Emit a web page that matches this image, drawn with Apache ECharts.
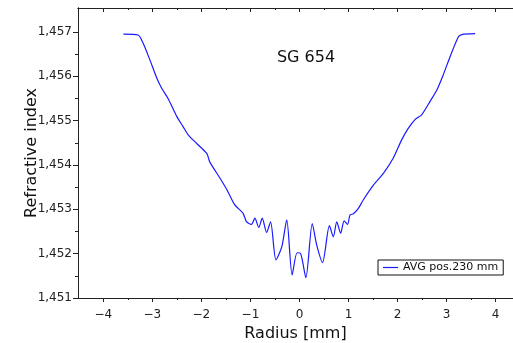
<!DOCTYPE html>
<html>
<head>
<meta charset="utf-8">
<script src="https://cdn.jsdelivr.net/npm/echarts@6/dist/echarts.min.js"></script>
<style>
html,body{margin:0;padding:0;background:#fff;}
#chart{width:513px;height:343px;}
</style>
</head>
<body>
<div id="chart"></div>
<script>
// Radius [mm]
const radius = [-3.59,-3.29,-3.19,-3.05,-2.91,-2.81,-2.68,-2.50,-2.37,-2.27,-2.10,-1.89,-1.83,-1.62,-1.48,-1.32,-1.15,-1.08,-0.98,-0.91,-0.83,-0.76,-0.67,-0.59,-0.48,-0.36,-0.26,-0.15,-0.05,0.02,0.13,0.26,0.35,0.47,0.61,0.69,0.76,0.84,0.91,0.98,1.03,1.10,1.20,1.30,1.51,1.71,1.91,2.08,2.22,2.36,2.49,2.66,2.80,2.93,3.07,3.24,3.31,3.58];
// Refractive index
const refIndex = [1.45695,1.45693,1.45675,1.45637,1.45596,1.45573,1.45550,1.45509,1.45486,1.45468,1.45449,1.45426,1.45407,1.45370,1.45344,1.45310,1.45291,1.45272,1.45266,1.45280,1.45259,1.45280,1.45248,1.45272,1.45186,1.45216,1.45276,1.45152,1.45202,1.45201,1.45146,1.45268,1.45220,1.45180,1.45263,1.45238,1.45272,1.45246,1.45274,1.45266,1.45287,1.45290,1.45302,1.45321,1.45355,1.45381,1.45415,1.45456,1.45483,1.45503,1.45513,1.45543,1.45569,1.45603,1.45644,1.45689,1.45694,1.45696];
const seriesName = 'AVG pos.230 mm';
const chartTitle = 'SG 654';
const xTicks = [-4,-3,-2,-1,0,1,2,3,4];
const xMinorTicks = [-3.5,-2.5,-1.5,-0.5,0.5,1.5,2.5,3.5];
const yTicks = [1.451,1.452,1.453,1.454,1.455,1.456,1.457];
const yMinorTicks = [1.4515,1.4525,1.4535,1.4545,1.4555,1.4565];

const X_MIN = -4.516, X_MAX = 4.353, Y_MIN = 1.451, Y_MAX = 1.45754;
const axisColor = '#222';
const font = 'DejaVu Sans';

function xAxisDef(pos, major, showLabel, name) {
  return {
    type: 'value', position: pos, min: X_MIN, max: X_MAX,
    name: name || '', nameLocation: 'middle', nameGap: 28, nameMoveOverlap: false,
    nameTextStyle: {fontFamily: font, fontSize: 16, color: '#111'},
    axisLine: {show: true, onZero: false, lineStyle: {color: axisColor, width: 1}},
    axisTick: {show: true, inside: pos === 'top', length: major ? 4 : 2,
      customValues: major ? xTicks : xMinorTicks, lineStyle: {color: axisColor}},
    axisLabel: {show: showLabel, customValues: xTicks, fontFamily: font, fontSize: 12, color: '#222', margin: 11,
      formatter: v => String(Math.round(v)).replace('-', '\u2212')},
    splitLine: {show: false}
  };
}
function yAxisDef(major, showLabel, name) {
  return {
    type: 'value', position: 'left', min: Y_MIN, max: Y_MAX,
    name: name || '', nameLocation: 'middle', nameGap: 38, nameMoveOverlap: false,
    nameTextStyle: {fontFamily: font, fontSize: 16, color: '#111'},
    axisLine: {show: true, onZero: false, lineStyle: {color: axisColor, width: 1}},
    axisTick: {show: true, inside: false, length: major ? 5 : 3,
      customValues: major ? yTicks : yMinorTicks, lineStyle: {color: axisColor}},
    axisLabel: {show: showLabel, customValues: yTicks, fontFamily: font, fontSize: 12, color: '#222', margin: 6,
      formatter: v => v.toFixed(3).replace('.', ',')},
    splitLine: {show: false}
  };
}

const chart = echarts.init(document.getElementById('chart'), null, {renderer: 'canvas'});
chart.setOption({
  animation: false,
  backgroundColor: '#fff',
  title: {text: chartTitle, left: 301, top: 45, textAlign: 'center',
    textStyle: {fontFamily: font, fontSize: 16, fontWeight: 'normal', color: '#111'}},
  grid: {left: 78, top: 8, right: 0, bottom: 45, containLabel: false, outerBoundsMode: 'none'},
  legend: {
    show: true, left: 378, top: 260, orient: 'horizontal',
    padding: [2, 5, 2, 5], borderColor: '#111', borderWidth: 1, backgroundColor: '#fff',
    itemWidth: 15, itemHeight: 1.2, itemGap: 4, icon: 'rect',
    textStyle: {fontFamily: font, fontSize: 11, color: '#111', padding: [0,0,0,0]},
    data: [seriesName]
  },
  xAxis: [
    xAxisDef('bottom', true, true, 'Radius [mm]'),
    xAxisDef('bottom', false, false),
    xAxisDef('top', true, false),
    xAxisDef('top', false, false)
  ],
  yAxis: [
    yAxisDef(true, true, 'Refractive index'),
    yAxisDef(false, false)
  ],
  series: [{
    name: seriesName, type: 'line', xAxisIndex: 0, yAxisIndex: 0,
    data: radius.map((r, i) => [r, refIndex[i]]),
    showSymbol: false, symbol: 'none', smooth: 0.25,
    lineStyle: {color: '#1a1aff', width: 1.2},
    itemStyle: {color: '#1a1aff'}
  }]
});
</script>
</body>
</html>
